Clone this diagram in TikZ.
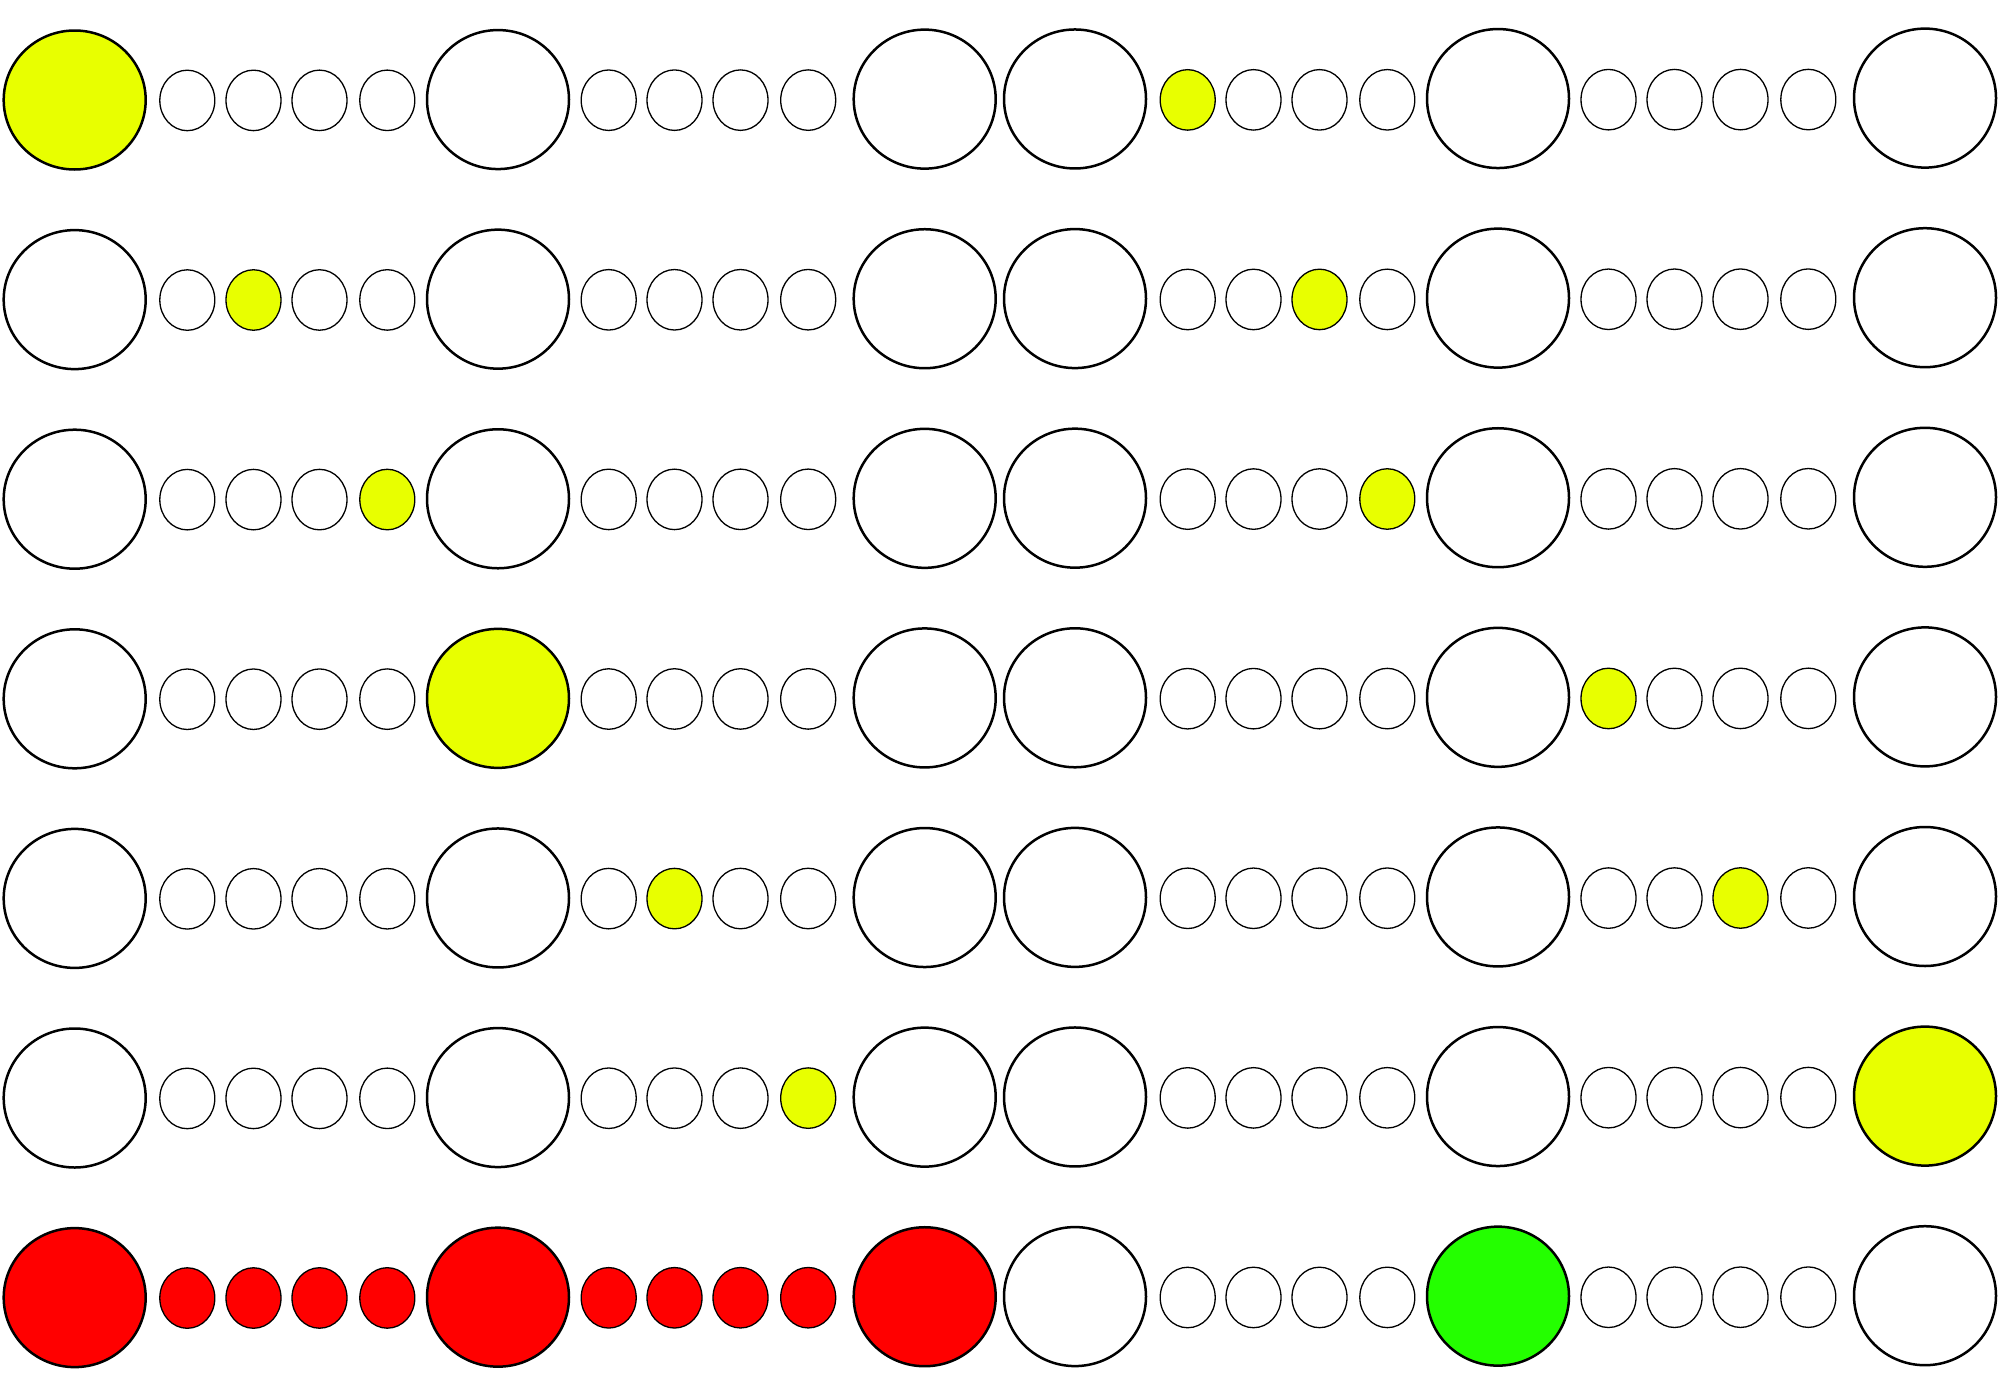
\documentclass[tikz,border=0pt]{standalone}
\usetikzlibrary{shapes.geometric}
\definecolor{yel}{RGB}{232,255,0}
\definecolor{redf}{RGB}{255,0,0}
\definecolor{grn}{RGB}{36,255,0}
\tikzset{
  bigc/.style={ellipse, draw=black, line width=2.5pt, fill=white, inner sep=0pt,
    minimum width=142pt, minimum height=139pt},
  smallc/.style={ellipse, draw=black, line width=1.3pt, fill=white, inner sep=0pt,
    minimum width=55pt, minimum height=60.5pt},
  hy/.style={fill=yel}, hr/.style={fill=redf}, hg/.style={fill=grn},
  f1b0/.style={hy}, f1s9/.style={hy},
  f2s2/.style={hy}, f2s11/.style={hy},
  f3s4/.style={hy}, f3s12/.style={hy},
  f4b1/.style={hy}, f4s13/.style={hy},
  f5s6/.style={hy}, f5s15/.style={hy},
  f6s8/.style={hy}, f6b5/.style={hy},
  f7b0/.style={hr}, f7b1/.style={hr}, f7b2/.style={hr}, f7b4/.style={hg},
  f7s1/.style={hr}, f7s2/.style={hr}, f7s3/.style={hr}, f7s4/.style={hr},
  f7s5/.style={hr}, f7s6/.style={hr}, f7s7/.style={hr}, f7s8/.style={hr},
}
\begin{document}
\begin{tikzpicture}[x=1pt,y=-1pt]
\useasboundingbox[fill=white] (0,0) rectangle (2000,1400);
\foreach \r in {1,...,7}{
  \pgfmathsetmacro{\ry}{100+(\r-1)*199.6}
  \foreach \b/\bx in {0/74.7,1/498,2/924.7,3/1075,4/1498,5/1925}{
    \node[bigc, f\r b\b/.try] (b\r-\b) at ({\bx},{\ry-1.9*(\bx-75)/1850}) {};
  }
  \foreach \s/\sx in {1/187.3,2/253.5,3/319.5,4/387.3,5/608.7,6/674.5,7/740.5,8/808.2,
                      9/1187.7,10/1253.5,11/1319.5,12/1387.3,13/1608.5,14/1674.5,15/1740.5,16/1808.3}{
    \node[smallc, f\r s\s/.try] (s\r-\s) at ({\sx},{\ry+0.5-1.0*(\sx-75)/1850}) {};
  }
}
\end{tikzpicture}
\end{document}
